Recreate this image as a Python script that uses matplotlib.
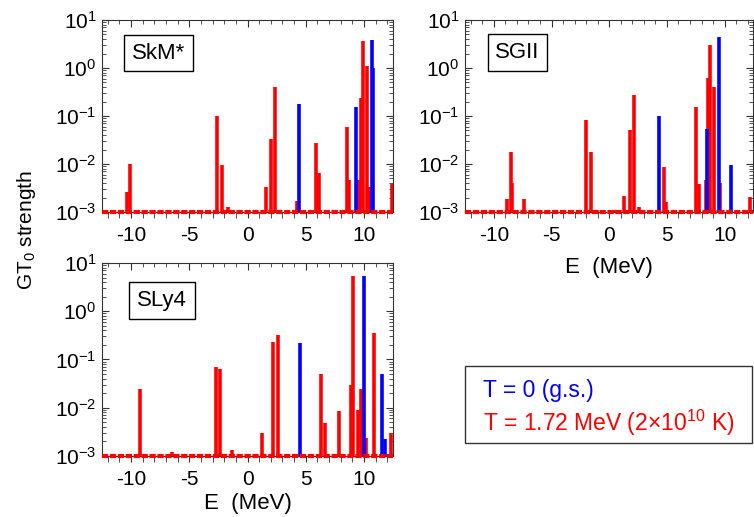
import matplotlib
matplotlib.use("Agg")
import matplotlib.pyplot as plt
import numpy as np
from matplotlib.patches import Rectangle
from matplotlib.ticker import LogLocator, FixedLocator, NullFormatter

plt.rcParams['font.family'] = ['Liberation Sans', 'DejaVu Sans']
plt.rcParams['mathtext.fontset'] = 'custom'
plt.rcParams['mathtext.rm'] = 'Liberation Sans'
plt.rcParams['mathtext.it'] = 'Liberation Sans:italic'
plt.rcParams['axes.unicode_minus'] = False
plt.rcParams['font.size'] = 15

# GT0 strength vs E (MeV)
# SkM*
skm_E0 = [4.39, 9.34, 10.72, 10.80]
skm_S0 = [0.18, 0.155, 3.8, 1.0]
skm_E = [-10.37, -10.06, -2.58, -2.23, -1.71, 1.57, 2.06, 2.40, 4.24, 5.91, 6.17,
         8.59, 8.73, 9.60, 9.74, 9.91, 10.23, 10.46, 12.4]
skm_S = [2.6e-3, 1.0e-2, 0.10, 9.5e-3, 1.25e-3, 3.3e-3, 0.033, 0.41, 1.7e-3, 0.028, 6.4e-3,
         0.059, 4.6e-3, 4.6e-3, 0.24, 3.6, 1.08, 3.4e-3, 3.8e-3]

# SGII
sg_E0 = [4.27, 8.46, 9.55, 10.57]
sg_S0 = [0.10, 0.053, 4.35, 9.7e-3]
sg_E = [-8.86, -8.49, -8.40, -7.35, -1.97, -1.60, -1.10, 0.40, 1.28, 1.79, 2.14, 2.60,
        4.73, 4.93, 7.55, 7.78, 8.37, 8.55, 8.69, 9.08, 9.63, 12.2]
sg_S = [1.9e-3, 0.018, 4.0e-3, 1.9e-3, 0.081, 0.018, 1.1e-3, 1.1e-3, 2.2e-3, 0.051, 0.27, 1.3e-3,
        8.5e-3, 1.6e-3, 0.155, 3.8e-3, 4.7e-3, 0.62, 2.95, 0.40, 4.1e-3, 2.1e-3]

# SLy4
sly_E0 = [4.47, 9.97, 11.53, 11.80]
sly_S0 = [0.22, 5.5, 0.050, 2.2e-3]
sly_E = [-9.22, -6.46, -2.72, -2.35, -1.37, 1.25, 2.20, 2.58, 6.29, 6.63, 7.84,
         8.91, 9.08, 9.48, 9.71, 10.17, 10.86, 12.3]
sly_S = [0.025, 1.2e-3, 0.071, 0.064, 1.35e-3, 3.0e-3, 0.23, 0.32, 0.050, 4.8e-3, 8.4e-3,
         0.030, 5.3, 9.0e-3, 0.025, 2.4e-3, 0.36, 3.0e-3]

x_major = [-10, -5, 0, 5, 10]
x_minor = list(range(-12, 13))

panels = [
    ("SkM*", skm_E0, skm_S0, skm_E, skm_S),
    ("SGII", sg_E0, sg_S0, sg_E, sg_S),
    ("SLy4", sly_E0, sly_S0, sly_E, sly_S),
]

fig = plt.figure(figsize=(7.54, 5.17), dpi=100)
rects = [
    [0.1353, 0.5899, 0.3859, 0.3714],
    [0.6167, 0.5899, 0.3826, 0.3714],
    [0.1353, 0.1180, 0.3859, 0.3733],
]
label_pos = [(0.194, 0.828), (0.182, 0.83), (0.206, 0.806)]
xlabel_pad = [None, 9, 3]

for i, (name, E0, S0, E, S) in enumerate(panels):
    ax = fig.add_axes(rects[i])
    ax.set_yscale('log')
    ax.set_xlim(-12.5, 12.5)
    ax.set_ylim(1e-3, 1e1)
    ax.axhline(1e-3, color='red', lw=3, dashes=(1.5, 0.4), zorder=4, clip_on=False)
    ax.vlines(E, 1e-3, S, color='red', lw=2.6, zorder=3)
    ax.vlines(E0, 1e-3, S0, color='blue', lw=2.6, zorder=3)
    ax.xaxis.set_major_locator(FixedLocator(x_major))
    ax.xaxis.set_minor_locator(FixedLocator(x_minor))
    ax.yaxis.set_major_locator(LogLocator(base=10, numticks=10))
    ax.yaxis.set_minor_locator(LogLocator(base=10, subs=np.arange(2, 10), numticks=10))
    ax.yaxis.set_minor_formatter(NullFormatter())
    ax.tick_params(which='both', direction='in', top=True, right=True, labelsize=15,
                   color='#333333')
    ax.tick_params(axis='x', which='both', bottom=False, top=True, labelbottom=False)
    ax.tick_params(which='major', length=5)
    ax.tick_params(which='minor', length=3)
    ax.tick_params(axis='y', pad=4)
    # bottom ticks point outward; use a secondary x axis for them
    bx = ax.secondary_xaxis('bottom')
    bx.xaxis.set_major_locator(FixedLocator(x_major))
    bx.xaxis.set_minor_locator(FixedLocator(x_minor))
    bx.tick_params(which='both', direction='out', labelsize=15, pad=6, color='#333333')
    bx.tick_params(which='major', length=4)
    bx.tick_params(which='minor', length=4)
    bx.spines['bottom'].set_color('#333333')
    for sp in ax.spines.values():
        sp.set_color('#333333')
    ax.text(label_pos[i][0], label_pos[i][1], name, transform=ax.transAxes, fontsize=16,
            ha='center', va='center',
            bbox=dict(boxstyle='square,pad=0.35', fc='white', ec='black', lw=1))
    if xlabel_pad[i] is not None:
        bx.set_xlabel('E  (MeV)', fontsize=16, labelpad=xlabel_pad[i])

fig.text(0.035, 0.555, 'GT$_0$ strength', rotation=90, ha='center', va='center', fontsize=15)

# legend box drawn as text
fig.patches.append(Rectangle((0.6167, 0.1431), 0.3806, 0.1489, transform=fig.transFigure,
                             fc='white', ec='#333333', lw=1))
fig.text(0.6406, 0.2321, 'T = 0 (g.s.)', color='blue', fontsize=16.5, va='baseline')
fig.text(0.6406, 0.1663, r'T = 1.72 MeV (2$\times$10$^{10}$ K)', color='red',
         fontsize=16.5, va='baseline')

fig.savefig('out.png', dpi=100)
